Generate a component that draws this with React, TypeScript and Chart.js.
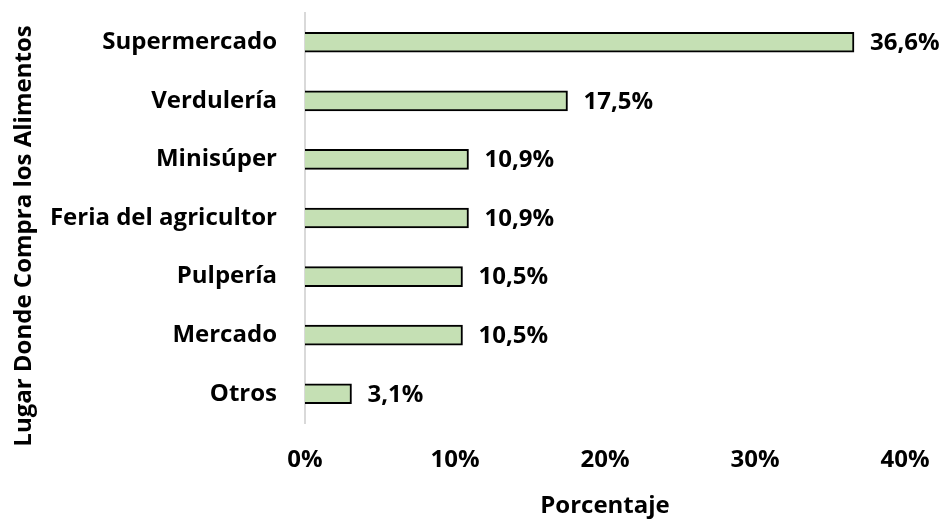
import React, { useEffect, useRef } from "react";
import { Chart, registerables } from "chart.js";

Chart.register(...registerables);

const categories = [
  "Supermercado",
  "Verdulería",
  "Minisúper",
  "Feria del agricultor",
  "Pulpería",
  "Mercado",
  "Otros",
];
const values = [36.6, 17.5, 10.9, 10.9, 10.5, 10.5, 3.1];
const xTicks = [0, 10, 20, 30, 40];
const xTitle = "Porcentaje";
const yTitle = "Lugar Donde Compra los Alimentos";

const FONT = "'Open Sans', sans-serif";
const FONT_SIZE = 24;

const dataLabelPlugin = {
  id: "dataLabels",
  afterDatasetsDraw(chart: any) {
    const ctx = chart.ctx;
    const meta = chart.getDatasetMeta(0);
    ctx.save();
    ctx.font = `bold ${FONT_SIZE}px ${FONT}`;
    ctx.fillStyle = "#000";
    ctx.textAlign = "left";
    ctx.textBaseline = "middle";
    meta.data.forEach((bar: any, i: number) => {
      const v = chart.data.datasets[0].data[i] as number;
      const txt = v.toFixed(1).replace(".", ",") + "%";
      ctx.fillText(txt, bar.x + 16, bar.y + 1);
    });
    ctx.restore();
  },
};

const yTitlePlugin = {
  id: "yTitle",
  afterDraw(chart: any) {
    const ctx = chart.ctx;
    ctx.save();
    ctx.font = `bold ${FONT_SIZE}px ${FONT}`;
    ctx.fillStyle = "#000";
    ctx.textAlign = "center";
    ctx.textBaseline = "middle";
    ctx.translate(24, 236);
    ctx.rotate(-Math.PI / 2);
    ctx.fillText(yTitle, 0, 0);
    ctx.restore();
  },
};

export default function App() {
  const ref = useRef<HTMLCanvasElement>(null);
  useEffect(() => {
    document.body.style.margin = "0";
    const canvas = ref.current!;
    const chart = new Chart(canvas, {
      type: "bar",
      data: {
        labels: categories,
        datasets: [
          {
            data: values,
            backgroundColor: "#C5E0B4",
            borderColor: "#000000",
            borderWidth: 2,
            barThickness: 20,
          },
        ],
      },
      options: {
        indexAxis: "y",
        animation: false,
        responsive: false,
        devicePixelRatio: 1,
        layout: { padding: { top: 13, right: 45, left: 0, bottom: 0 } },
        plugins: {
          legend: { display: false },
          tooltip: { enabled: false },
        },
        scales: {
          x: {
            min: 0,
            max: 40,
            afterBuildTicks: (scale: any) => {
              scale.ticks = xTicks.map((v) => ({ value: v }));
            },
            afterFit: (scale: any) => {
              scale.height = 96;
              scale.paddingLeft = 0;
              scale.paddingRight = 0;
            },
            grid: { display: false, drawTicks: false },
            border: { display: false },
            ticks: {
              padding: 23,
              maxRotation: 0,
              color: "#000",
              font: { family: FONT, size: FONT_SIZE, weight: "bold" },
              callback: (v: any) => v + "%",
            },
            title: {
              display: true,
              text: xTitle,
              color: "#000",
              padding: { top: 0, bottom: -2 },
              font: { family: FONT, size: FONT_SIZE, weight: "bold" },
            },
          },
          y: {
            afterFit: (scale: any) => {
              scale.width = 305;
              scale.paddingTop = 0;
              scale.paddingBottom = 0;
            },
            grid: { display: false, drawTicks: false },
            border: { display: true, color: "#D9D9D9", width: 2 },
            ticks: {
              padding: 28,
              color: "#000",
              font: { family: FONT, size: FONT_SIZE, weight: "bold" },
            },
          },
        },
      },
      plugins: [dataLabelPlugin, yTitlePlugin],
    });
    return () => chart.destroy();
  }, []);
  return (
    <div style={{ width: 950, height: 519, background: "#fff" }}>
      <canvas ref={ref} width={950} height={519} />
    </div>
  );
}
